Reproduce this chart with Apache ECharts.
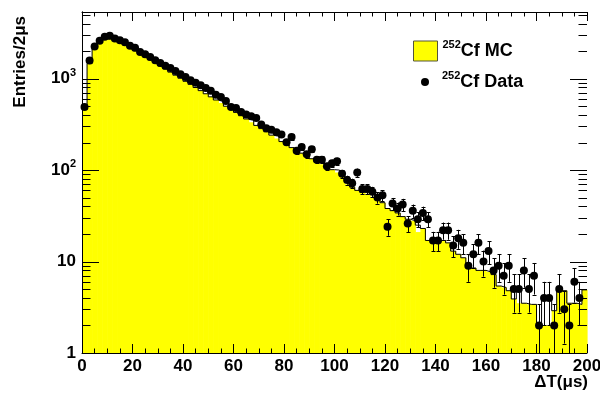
<!DOCTYPE html>
<html><head><meta charset="utf-8">
<script src="https://cdn.jsdelivr.net/npm/echarts@6/dist/echarts.min.js"></script>
<style>html,body{margin:0;padding:0;background:#fff}#c{width:600px;height:394px}</style>
</head><body><div id="c"></div>
<script>
const binWidth = 2;
// 252Cf data: entries per 2 us bin (bins 0..99)
const dataCounts = [489,1577,2243,2596,2870,2943,2743,2630,2495,2281,
 2171,1954,1843,1722,1585,1481,1386,1306,1211,1113,
 1041,958,904,845,789,735,665,628,569,488,
 477,431,405,387,371,315,287,276,259,245,
 201,230,163,179,149,169,130,130,110,119,
 125,91,78,72,94,62,62,58,50,53,
 24,43,38,42,26,36,29,34,29,17,
 17,22,22,15,18,16,9,12,16,10,
 13,8,9,7,9,5,5,8,5,7,
 2,4,4,2,5,3,2,6,4,null];
// 252Cf MC (yellow filled histogram)
const mcFill = [470,1460,2130,2480,2700,2750,2620,2480,2330,2170,
 2018,1869,1731,1603,1484,1374,1273,1178,1091,1010,
 935,865,799,739,683,632,584,540,499,461,
 427,393,362,334,308,284,262,241,222,205,
 189,176,164,153,143,133,124,116,108,101,
 94,85,70,65,60,57,55,51,48,44,
 38,36,34,31,29,28,21,23,17,16,
 16,17,16,13,12,11,9,8.5,8,8,
 7.7,7.2,5.4,5.2,4.8,3.9,3.5,3.5,3.4,3.4,
 2,2,2,2.9,4.8,4.8,3.5,3.5,3.4,4.9];
// 252Cf MC outline (black step line)
const mcLine = [470,1460,2130,2480,2700,2750,2620,2480,2330,2170,
 2018,1869,1731,1603,1484,1374,1273,1178,1091,1010,
 935,865,799,739,683,632,584,560,499,461,
 427,393,362,350,308,284,262,241,235,205,
 189,176,164,153,143,133,124,122,108,101,
 100,90,75,65,60,57,58,56,48,44,
 38,36,34,31,29,28,25,23,17,16,
 16,17,16,13,12,11,9,8.5,8,8,
 7.7,7.2,5.4,5.2,4.8,3.9,5,3.5,3.4,3.4,
 2,4,4,2.9,4.8,4.8,3.5,3.5,3.4,4.9];
const xTickValues = [0,20,40,60,80,100,120,140,160,180,200];
const yMajorTicks = [1,10,100,1000];
const yTickBase = ['1','10','10','10'];
const yTickExp = ['','','2','3'];
const yMinorTicks = [2,3,4,5,6,7,8,9,20,30,40,50,60,70,80,90,200,300,400,500,600,700,800,900,2000,3000,4000,5000];
const xTitle = 'ΔT(μs)';
const yTitle = 'Entries/2μs';
const legendMC = 'Cf MC';
const legendData = 'Cf Data';
const isotope = '252';

const FONT = '"Liberation Sans", Arial, Helvetica, sans-serif';
const chart = echarts.init(document.getElementById('c'), null, {renderer: 'canvas'});

const pointData = [], errData = [];
dataCounts.forEach((n, i) => {
  if (n != null && n > 0) {
    const c = i * binWidth + binWidth / 2;
    pointData.push([c, n]);
    errData.push([c, n, n - Math.sqrt(n), n + Math.sqrt(n)]);
  }
});
const fillData = mcFill.map((v, i) => [i * binWidth, v, (i + 1) * binWidth]);
const lineData = mcLine.map((v, i) => [i * binWidth, v]);
lineData.push([mcLine.length * binWidth, mcLine[mcLine.length - 1]]);
const tickData = yMajorTicks.map(v => [0, v, 17]).concat(yMinorTicks.map(v => [0, v, 8.5]));

const xMin = xTickValues[0], xMax = xTickValues[xTickValues.length - 1];
const yMin = 1, yMax = 5350;
const axisCommonX = {
  type: 'value', min: xMin, max: xMax, interval: 20, z: 10,
  axisLine: {show: true, lineStyle: {color: '#000', width: 1}},
  axisTick: {show: true, inside: true, length: 9, lineStyle: {color: '#000', width: 1}},
  minorTick: {show: true, splitNumber: 4, length: 4.5, lineStyle: {color: '#000', width: 1}},
  splitLine: {show: false}
};
const labelRich = {
  b: {fontSize: 17, fontWeight: 'bold', fontFamily: FONT, color: '#000'},
  s: {fontSize: 11, fontWeight: 'bold', fontFamily: FONT, color: '#000', padding: [0, 0, 12, 0]}
};
const legendRich = {
  b: {fontSize: 18, fontWeight: 'bold', fontFamily: FONT, color: '#000'},
  s: {fontSize: 11, fontWeight: 'bold', fontFamily: FONT, color: '#000', padding: [0, 0, 13, 0]}
};

chart.setOption({
  animation: false,
  backgroundColor: '#fff',
  grid: {left: 82, right: 13, top: 12, bottom: 41, show: false, containLabel: false, outerBoundsMode: 'none'},
  xAxis: [
    Object.assign({}, axisCommonX, {
      position: 'bottom',
      axisLabel: {show: true, fontSize: 17, fontWeight: 'bold', fontFamily: FONT, color: '#000', margin: 5}
    }),
    Object.assign({}, axisCommonX, {position: 'top', axisLabel: {show: false}})
  ],
  yAxis: [
    {
      type: 'log', logBase: 10, min: yMin, max: yMax, position: 'left', z: 10,
      axisLine: {show: true, lineStyle: {color: '#000', width: 1}},
      axisTick: {show: false}, minorTick: {show: false}, splitLine: {show: false},
      axisLabel: {
        margin: 6, rich: labelRich,
        formatter: function (v) {
          const e = Math.log10(v), r = Math.round(e);
          if (Math.abs(e - r) > 1e-6) return '';
          const idx = yMajorTicks.indexOf(Math.pow(10, r));
          if (idx < 0) return '';
          return '{b|' + yTickBase[idx] + '}' + (yTickExp[idx] ? '{s|' + yTickExp[idx] + '}' : '');
        }
      }
    },
    {
      type: 'log', logBase: 10, min: yMin, max: yMax, position: 'right', z: 10,
      axisLine: {show: true, lineStyle: {color: '#000', width: 1}},
      axisTick: {show: false}, minorTick: {show: false}, splitLine: {show: false},
      axisLabel: {show: false}
    }
  ],
  legend: [
    {
      left: 413, top: 39, padding: 0, itemWidth: 24, itemHeight: 20, selectedMode: false,
      data: [{name: 'MC', icon: 'rect', itemStyle: {color: '#ffff00', borderColor: '#55553a', borderWidth: 1}}],
      formatter: () => '{s|' + isotope + '}{b|' + legendMC + '}',
      textStyle: {rich: legendRich}
    },
    {
      left: 421, top: 70, padding: 0, itemWidth: 24, itemHeight: 8, selectedMode: false,
      data: [{name: 'Data', icon: 'circle', itemStyle: {color: '#000', opacity: 1}}],
      formatter: () => '{s|' + isotope + '}{b|' + legendData + '}',
      textStyle: {rich: legendRich}
    }
  ],
  graphic: [
    {
      type: 'text', x: 20, y: 16, rotation: Math.PI / 2, z: 100,
      style: {text: yTitle, font: 'bold 17px ' + FONT, fill: '#000', align: 'right', verticalAlign: 'middle'}
    },
    {
      type: 'text', x: 588, y: 374, z: 100,
      style: {text: xTitle, font: 'bold 17px ' + FONT, fill: '#000', align: 'right', verticalAlign: 'top'}
    }
  ],
  series: [
    {
      name: 'MC', type: 'custom', xAxisIndex: 0, yAxisIndex: 0, z: 1,
      itemStyle: {color: '#ffff00'},
      data: fillData,
      renderItem: function (params, api) {
        const cs = params.coordSys;
        const bottom = cs.y + cs.height;
        const p0 = api.coord([api.value(0), api.value(1)]);
        const p1 = api.coord([api.value(2), api.value(1)]);
        return {type: 'rect', shape: {x: p0[0], y: p0[1], width: p1[0] - p0[0] + 0.6, height: bottom - p0[1]},
          style: {fill: '#ffff00'}, silent: true};
      }
    },
    {
      name: 'MCline', type: 'line', step: 'end', z: 2, symbol: 'none',
      data: lineData, lineStyle: {color: '#000', width: 1}, silent: true
    },
    {
      name: 'err', type: 'custom', z: 3, data: errData,
      renderItem: function (params, api) {
        const cs = params.coordSys;
        const bottom = cs.y + cs.height;
        const xv = api.value(0);
        const x = Math.round(api.coord([xv, api.value(1)])[0]) + 0.5;
        const lo = api.value(2), hi = api.value(3);
        const yHi = api.coord([xv, hi])[1];
        let yLo = bottom, capLo = false;
        if (lo >= 1) { yLo = api.coord([xv, lo])[1]; capLo = true; }
        const st = {stroke: '#000', lineWidth: 1};
        const ch = [
          {type: 'line', shape: {x1: x, y1: yHi, x2: x, y2: yLo}, style: st},
          {type: 'line', shape: {x1: x - 2, y1: Math.round(yHi) + 0.5, x2: x + 2, y2: Math.round(yHi) + 0.5}, style: st}
        ];
        if (capLo) ch.push({type: 'line', shape: {x1: x - 2, y1: Math.round(yLo) + 0.5, x2: x + 2, y2: Math.round(yLo) + 0.5}, style: st});
        return {type: 'group', children: ch, silent: true};
      }
    },
    {
      name: 'Data', type: 'scatter', z: 4, symbol: 'circle', symbolSize: 8,
      itemStyle: {color: '#000', opacity: 1}, data: pointData, silent: true
    },
    {
      name: 'yticks', type: 'custom', z: 5, data: tickData, silent: true,
      renderItem: function (params, api) {
        const cs = params.coordSys;
        const y = Math.round(api.coord([0, api.value(1)])[1]) + 0.5;
        const len = api.value(2);
        const st = {stroke: '#000', lineWidth: 1};
        return {type: 'group', children: [
          {type: 'line', shape: {x1: cs.x, y1: y, x2: cs.x + len, y2: y}, style: st},
          {type: 'line', shape: {x1: cs.x + cs.width - len, y1: y, x2: cs.x + cs.width, y2: y}, style: st}
        ]};
      }
    }
  ]
});
</script></body></html>
